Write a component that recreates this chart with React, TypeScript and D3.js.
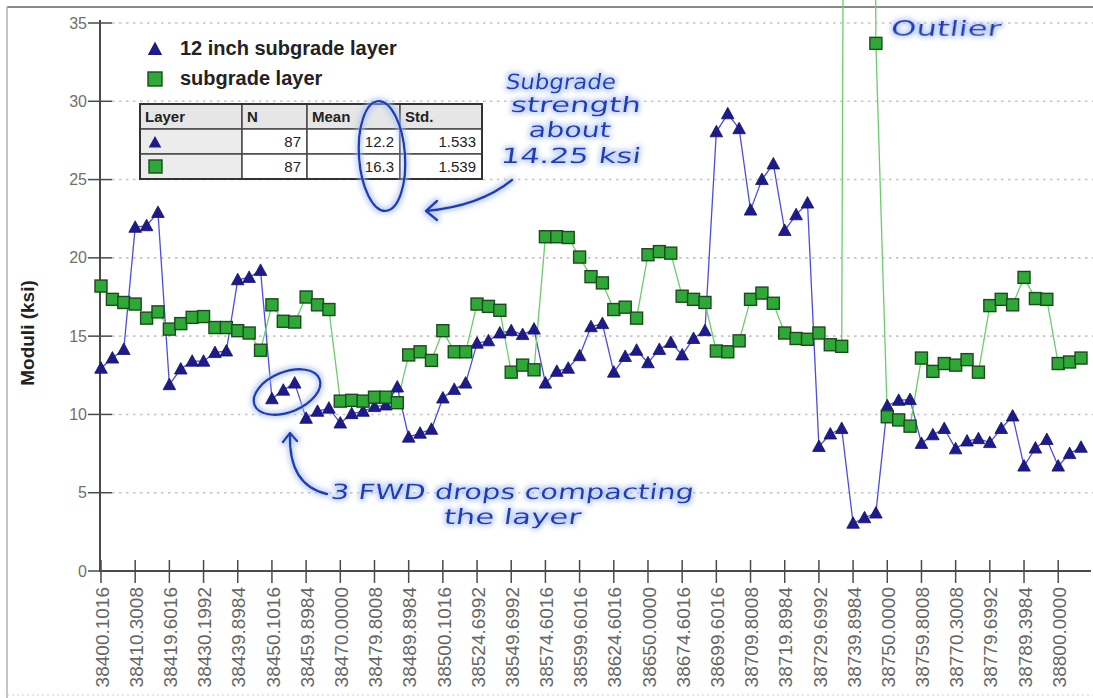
import React, { useEffect, useRef } from 'react';
import * as d3 from 'd3';

// Station tick labels (every third test point is labelled)
const stationTicks = [
  '38400.1016', '38410.3008', '38419.6016', '38430.1992', '38439.8984', '38450.1016',
  '38459.8984', '38470.0000', '38479.8008', '38489.8984', '38500.1016', '38524.6992',
  '38549.6992', '38574.6016', '38599.6016', '38624.6016', '38650.0000', '38674.6016',
  '38699.6016', '38709.8008', '38719.8984', '38729.6992', '38739.8984', '38750.0000',
  '38759.8008', '38770.3008', '38779.6992', '38789.3984', '38800.0000',
];
const tickStep = 3;

// Back-calculated moduli (ksi), one value per FWD test point
const layer12in = [
  12.95, 13.6, 14.15, 21.95, 22.05, 22.9, 11.9, 12.9, 13.4, 13.4,
  13.95, 14.05, 18.6, 18.75, 19.2, 11.0, 11.55, 12.0, 9.75, 10.2,
  10.4, 9.45, 10.05, 10.2, 10.5, 10.6, 11.75, 8.55, 8.8, 9.05,
  11.05, 11.6, 12.0, 14.55, 14.7, 15.2, 15.35, 15.1, 15.45, 12.0,
  12.75, 12.95, 13.75, 15.6, 15.8, 12.7, 13.7, 14.1, 13.3, 14.15,
  14.6, 13.8, 14.85, 15.35, 28.05, 29.2, 28.25, 23.05, 25.0, 26.0,
  21.75, 22.75, 23.5, 7.95, 8.75, 9.1, 3.05, 3.4, 3.7, 10.55,
  10.9, 10.95, 8.15, 8.7, 9.1, 7.8, 8.3, 8.45, 8.2, 9.1,
  9.9, 6.7, 7.85, 8.4, 6.7, 7.5, 7.9,
];
const subgradeLayer = [
  18.2, 17.35, 17.15, 17.05, 16.15, 16.55, 15.45, 15.8, 16.2, 16.25,
  15.55, 15.55, 15.35, 15.2, 14.1, 17.0, 15.95, 15.9, 17.5, 17.0,
  16.7, 10.85, 10.9, 10.85, 11.1, 11.1, 10.75, 13.8, 14.0, 13.45,
  15.35, 14.0, 14.0, 17.05, 16.9, 16.65, 12.7, 13.15, 12.85, 21.35,
  21.35, 21.3, 20.05, 18.8, 18.4, 16.7, 16.85, 16.15, 20.2, 20.4,
  20.3, 17.55, 17.35, 17.15, 14.05, 14.0, 14.7, 17.35, 17.75, 17.1,
  15.2, 14.85, 14.8, 15.2, 14.45, 14.35, 210, 190, 33.7, 9.85,
  9.65, 9.25, 13.6, 12.75, 13.25, 13.15, 13.5, 12.7, 16.95, 17.35,
  17.0, 18.75, 17.4, 17.35, 13.25, 13.35, 13.6,
];

const yTicks = [0, 5, 10, 15, 20, 25, 30, 35];
const seriesNames = ['12 inch subgrade layer', 'subgrade layer'];

// Summary table
const tableHeader = ['Layer', 'N', 'Mean', 'Std.'];
const tableN = ['87', '87'];
const tableMean = ['12.2', '16.3'];
const tableStd = ['1.533', '1.539'];

// Hand-written notes
const noteLines = [
  { text: 'Subgrade', x0: 505, x1: 615, y: 89 },
  { text: 'strength', x0: 510, x1: 640, y: 112 },
  { text: 'about', x0: 528, x1: 610, y: 137 },
  { text: '14.25 ksi', x0: 500, x1: 640, y: 163 },
  { text: 'Outlier', x0: 890, x1: 1000, y: 36 },
  { text: '3 FWD drops compacting', x0: 330, x1: 693, y: 499 },
  { text: 'the layer', x0: 443, x1: 580, y: 524 },
];

const W = 1093;
const H = 698;

const BLUE_MARK = '#1d1b8c';
const BLUE_LINE = '#4c4ce0';
const GREEN_MARK = '#2ea836';
const GREEN_EDGE = '#1c4a1c';
const GREEN_LINE = '#6ccc6c';
const INK = '#1f3cb8';

export default function App() {
  const ref = useRef<SVGSVGElement>(null);

  useEffect(() => {
    const svg = d3.select(ref.current);
    svg.selectAll('*').remove();

    const axisX = 100;
    const axisY = 571;
    const x = d3.scaleLinear().domain([0, layer12in.length - 1]).range([101, 1081]);
    const y = d3.scaleLinear().domain([0, 35]).range([axisY, 23]);

    // glow filter for the marker-pen notes
    const defs = svg.append('defs');
    const f = defs.append('filter').attr('id', 'glow').attr('x', '-20%').attr('y', '-40%').attr('width', '140%').attr('height', '180%');
    f.append('feMorphology').attr('in', 'SourceAlpha').attr('operator', 'dilate').attr('radius', 1.5).attr('result', 'thick');
    f.append('feGaussianBlur').attr('in', 'thick').attr('stdDeviation', 2.5).attr('result', 'blur');
    f.append('feFlood').attr('flood-color', '#a9c0f5').attr('flood-opacity', 0.7);
    f.append('feComposite').attr('in2', 'blur').attr('operator', 'in').attr('result', 'halo');
    const mg = f.append('feMerge');
    mg.append('feMergeNode').attr('in', 'halo');
    mg.append('feMergeNode').attr('in', 'SourceGraphic');

    svg.append('rect').attr('width', W).attr('height', H).attr('fill', '#ffffff');
    // outer frame
    svg.append('line').attr('x1', 7).attr('x2', W).attr('y1', 7).attr('y2', 7).attr('stroke', '#8a8a8a').attr('stroke-width', 2);
    svg.append('line').attr('x1', 7).attr('x2', 7).attr('y1', 7).attr('y2', H).attr('stroke', '#b0b0b0').attr('stroke-width', 1.5);
    svg.append('line').attr('x1', 7).attr('x2', W).attr('y1', 695).attr('y2', 695)
      .attr('stroke', '#cfcfcf').attr('stroke-width', 1.2).attr('stroke-dasharray', '2,3');

    // grid
    const grid = svg.append('g');
    yTicks.filter((t) => t > 0).forEach((t) => {
      grid.append('line')
        .attr('x1', axisX + 12).attr('x2', W)
        .attr('y1', y(t)).attr('y2', y(t))
        .attr('stroke', '#c4c4c4').attr('stroke-width', 1.6)
        .attr('stroke-dasharray', '2.5,4.5');
    });

    // y axis
    const ya = svg.append('g').attr('font-family', 'Liberation Sans, Arial, sans-serif');
    ya.append('line').attr('x1', axisX).attr('x2', axisX).attr('y1', 20).attr('y2', axisY + 1)
      .attr('stroke', '#4a4a4a').attr('stroke-width', 2);
    yTicks.forEach((t) => {
      ya.append('line').attr('x1', axisX - 12).attr('x2', axisX + 12)
        .attr('y1', y(t)).attr('y2', y(t)).attr('stroke', '#4a4a4a').attr('stroke-width', 1.5);
      ya.append('text').attr('x', 87).attr('y', y(t)).attr('dy', '0.35em')
        .attr('text-anchor', 'end').attr('font-size', 16).attr('fill', '#707070')
        .text(t);
    });
    ya.append('text')
      .attr('transform', `translate(34,333) rotate(-90)`)
      .attr('text-anchor', 'middle').attr('font-size', 19).attr('font-weight', 'bold').attr('fill', '#222')
      .text('Moduli (ksi)');

    // x axis
    const xa = svg.append('g').attr('font-family', 'Liberation Sans, Arial, sans-serif');
    xa.append('line').attr('x1', axisX).attr('x2', 1091).attr('y1', axisY).attr('y2', axisY)
      .attr('stroke', '#4a4a4a').attr('stroke-width', 2);
    stationTicks.forEach((lab, k) => {
      const px = x(k * tickStep);
      xa.append('line').attr('x1', px).attr('x2', px).attr('y1', axisY - 11).attr('y2', axisY + 12)
        .attr('stroke', '#4a4a4a').attr('stroke-width', 1.5);
      xa.append('text')
        .attr('transform', `translate(${px + 1},${axisY + 16}) rotate(-90)`)
        .attr('text-anchor', 'end').attr('dy', '0.35em')
        .attr('font-size', 19).attr('fill', '#666')
        .text(lab);
    });

    // series lines
    const line = d3.line<number>().x((_, i) => x(i)).y((d) => y(d));
    svg.append('path').datum(layer12in).attr('d', line).attr('fill', 'none')
      .attr('stroke', BLUE_LINE).attr('stroke-width', 1.3);
    svg.append('path').datum(subgradeLayer).attr('d', line).attr('fill', 'none')
      .attr('stroke', GREEN_LINE).attr('stroke-width', 1.3);

    const tri = 'M0,-6.5L6.3,5L-6.3,5Z';
    svg.append('g').selectAll('path').data(layer12in).join('path')
      .attr('d', tri)
      .attr('transform', (d, i) => `translate(${x(i)},${y(d)})`)
      .attr('fill', BLUE_MARK).attr('stroke', '#14126a').attr('stroke-width', 0.8);
    svg.append('g').selectAll('rect').data(subgradeLayer).join('rect')
      .attr('x', (_, i) => x(i) - 6).attr('y', (d) => y(d) - 6)
      .attr('width', 12).attr('height', 12)
      .attr('fill', GREEN_MARK).attr('stroke', GREEN_EDGE).attr('stroke-width', 1.4);

    // legend
    const lg = svg.append('g').attr('font-family', 'Liberation Sans, Arial, sans-serif');
    lg.append('path').attr('d', 'M0,-7.5L7.2,6L-7.2,6Z').attr('transform', 'translate(155,49)').attr('fill', BLUE_MARK);
    lg.append('rect').attr('x', 148).attr('y', 72).attr('width', 14).attr('height', 14)
      .attr('fill', GREEN_MARK).attr('stroke', GREEN_EDGE).attr('stroke-width', 1.4);
    seriesNames.forEach((n, i) => {
      lg.append('text').attr('x', 180).attr('y', 55 + i * 30)
        .attr('font-size', 20).attr('font-weight', 'bold').attr('fill', '#222').text(n);
    });

    // summary table
    const cols = [140, 242, 307, 400, 482];
    const rows = [104, 129, 154, 179];
    const tb = svg.append('g').attr('font-family', 'Liberation Sans, Arial, sans-serif');
    for (let r = 0; r < 3; r++) {
      for (let c = 0; c < 4; c++) {
        const fill = r === 0 ? '#e6e6e6' : c === 0 ? '#ececec' : '#ffffff';
        tb.append('rect').attr('x', cols[c]).attr('y', rows[r])
          .attr('width', cols[c + 1] - cols[c]).attr('height', rows[r + 1] - rows[r])
          .attr('fill', fill).attr('stroke', '#4a4a4a').attr('stroke-width', 1.5);
      }
    }
    tb.append('rect').attr('x', cols[0]).attr('y', rows[0]).attr('width', cols[4] - cols[0])
      .attr('height', rows[3] - rows[0]).attr('fill', 'none').attr('stroke', '#333').attr('stroke-width', 2);
    tableHeader.forEach((h, c) => {
      tb.append('text').attr('x', cols[c] + 5).attr('y', rows[0] + 18)
        .attr('font-size', 15).attr('font-weight', 'bold').attr('fill', '#222').text(h);
    });
    [0, 1].forEach((r) => {
      const cy = (rows[r + 1] + rows[r + 2]) / 2;
      if (r === 0) {
        tb.append('path').attr('d', tri).attr('transform', `translate(155,${cy + 1})`).attr('fill', BLUE_MARK);
      } else {
        tb.append('rect').attr('x', 149).attr('y', cy - 6.5).attr('width', 13).attr('height', 13)
          .attr('fill', GREEN_MARK).attr('stroke', GREEN_EDGE).attr('stroke-width', 1.4);
      }
      [tableN[r], tableMean[r], tableStd[r]].forEach((v, j) => {
        tb.append('text').attr('x', cols[j + 2] - 6).attr('y', cy + 5.5)
          .attr('text-anchor', 'end').attr('font-size', 15).attr('fill', '#222').text(v);
      });
    });

    // notes
    const notes = svg.append('g').attr('filter', 'url(#glow)');
    noteLines.forEach((n) => {
      notes.append('text')
        .attr('transform', `translate(${n.x0},${n.y}) skewX(-8)`)
        .attr('textLength', n.x1 - n.x0).attr('lengthAdjust', 'spacingAndGlyphs')
        .attr('font-family', 'DejaVu Sans, sans-serif')
        .attr('font-size', 21).attr('fill', INK).text(n.text);
    });
    const pen = notes.append('g').attr('fill', 'none').attr('stroke', INK).attr('stroke-width', 2.4)
      .attr('stroke-linecap', 'round').attr('stroke-linejoin', 'round');
    pen.append('ellipse').attr('cx', 382).attr('cy', 156).attr('rx', 23).attr('ry', 55)
      .attr('transform', 'rotate(-4,382,156)');
    pen.append('path').attr('d', 'M512,180 Q480,206 426,211');
    pen.append('path').attr('d', 'M437,201 L426,211 L437,220');
    pen.append('ellipse').attr('cx', 287).attr('cy', 392).attr('rx', 35).attr('ry', 20)
      .attr('transform', 'rotate(-22,287,392)');
    pen.append('path').attr('d', 'M327,494 C300,488 289,466 290,434');
    pen.append('path').attr('d', 'M283,442 L290,433 L297,441');
  }, []);

  return (
    <svg
      ref={ref}
      width={W}
      height={H}
      style={{ position: 'absolute', left: 0, top: 0, display: 'block' }}
    />
  );
}
